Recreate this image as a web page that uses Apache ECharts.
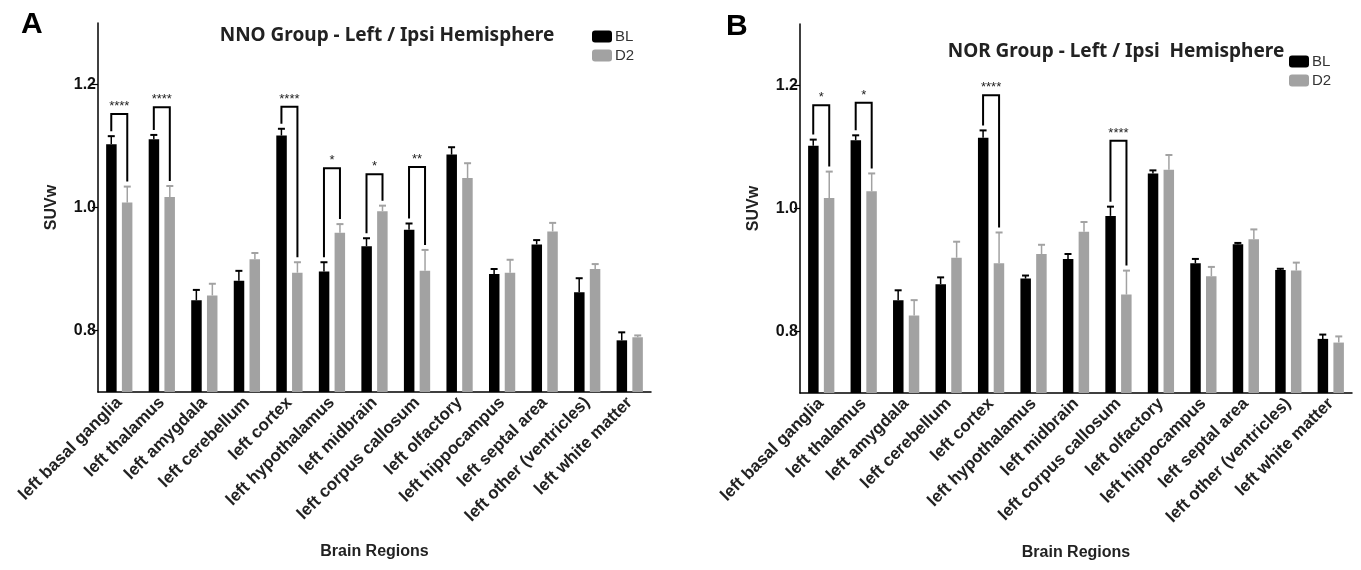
<!DOCTYPE html>
<html><head><meta charset="utf-8">
<script src="https://cdn.jsdelivr.net/npm/echarts@6/dist/echarts.min.js"></script>
<style>html,body{margin:0;padding:0;background:#fff}#c{width:1361px;height:570px}</style>
</head><body><div id="c"></div>
<script>
const categories = ['left basal ganglia','left thalamus','left amygdala','left cerebellum','left cortex','left hypothalamus','left midbrain','left corpus callosum','left olfactory','left hippocampus','left septal area','left other (ventricles)','left white matter'];
const blA    = [1.103, 1.111, 0.849, 0.881, 1.117, 0.896, 0.937, 0.964, 1.086, 0.892, 0.940, 0.862, 0.784];
const blAErr = [0.013, 0.007, 0.017, 0.016, 0.011, 0.015, 0.013, 0.010, 0.012, 0.008, 0.007, 0.023, 0.013];
const d2A    = [1.008, 1.017, 0.857, 0.916, 0.894, 0.959, 0.994, 0.897, 1.048, 0.894, 0.961, 0.900, 0.789];
const d2AErr = [0.026, 0.018, 0.019, 0.010, 0.017, 0.014, 0.009, 0.034, 0.024, 0.021, 0.014, 0.008, 0.003];
const blB    = [1.102, 1.111, 0.851, 0.877, 1.115, 0.886, 0.918, 0.988, 1.057, 0.911, 0.942, 0.900, 0.788];
const blBErr = [0.010, 0.008, 0.016, 0.011, 0.012, 0.005, 0.008, 0.015, 0.005, 0.007, 0.002, 0.002, 0.007];
const d2B    = [1.017, 1.028, 0.826, 0.920, 0.911, 0.926, 0.962, 0.860, 1.063, 0.890, 0.950, 0.899, 0.782];
const d2BErr = [0.043, 0.029, 0.025, 0.026, 0.050, 0.015, 0.016, 0.039, 0.024, 0.015, 0.016, 0.013, 0.010];
// significance brackets: [category index, bracket top value, stars]
const sigA = [[0, 1.152, '****'], [1, 1.163, '****'], [4, 1.164, '****'], [5, 1.064, '*'], [6, 1.054, '*'], [7, 1.066, '**']];
const sigB = [[0, 1.168, '*'], [1, 1.172, '*'], [4, 1.184, '****'], [7, 1.110, '****']];
const yTicks = [0.8, 1.0, 1.2];
const titleA = 'NNO Group - Left / Ipsi Hemisphere';
const titleB = 'NOR Group - Left / Ipsi  Hemisphere';
const seriesNames = ['BL', 'D2'];

const BLACK = '#000000', GREY = '#a2a2a2';
const BAR_W = 10.5, OFF = 8;
const FONT = 'Liberation Sans, Arial, sans-serif';
const NARROW = 'Liberation Sans Narrow, Liberation Sans, sans-serif';

function errRender(offset, color) {
  return function (params, api) {
    const i = api.value(0), v = api.value(1), e = api.value(2);
    const p0 = api.coord([i, v]);
    const p1 = api.coord([i, v + e]);
    const x = p0[0] + offset;
    return { type: 'group', children: [
      { type: 'line', shape: { x1: x, y1: p0[1], x2: x, y2: p1[1] }, style: { stroke: color, lineWidth: 1.5 } },
      { type: 'line', shape: { x1: x - 3.5, y1: p1[1], x2: x + 3.5, y2: p1[1] }, style: { stroke: color, lineWidth: 2 } }
    ]};
  };
}
function bracketRender(sig, bl, blE, d2, d2E) {
  return function (params, api) {
    const i = api.value(0), top = api.value(1);
    const label = sig[params.dataIndex][2];
    const pt = api.coord([i, top]);
    const xl = pt[0] - OFF, xr = pt[0] + OFF;
    const yl = api.coord([i, bl[i] + blE[i]])[1] - 5;
    const yr = api.coord([i, d2[i] + d2E[i]])[1] - 5;
    return { type: 'group', children: [
      { type: 'polyline', shape: { points: [[xl, yl], [xl, pt[1]], [xr, pt[1]], [xr, yr]] },
        style: { stroke: '#000', lineWidth: 2, fill: null } },
      { type: 'text', style: { text: label, x: pt[0], y: pt[1] - 1, textAlign: 'center', textVerticalAlign: 'bottom',
        align: 'center', verticalAlign: 'bottom', fontSize: 13, fontFamily: FONT, fill: '#222' } }
    ]};
  };
}
function tri(vals, errs) { return vals.map((v, i) => [i, v, errs[i]]); }

function xAxisCfg(g) {
  return {
    type: 'category', gridIndex: g, data: categories,
    axisLine: { lineStyle: { color: '#000', width: 1.5 } },
    axisTick: { alignWithLabel: true, length: 4, lineStyle: { color: '#000', width: 1.2 } },
    axisLabel: { rotate: 45, interval: 0, fontSize: 17, fontWeight: 'bold', color: '#222', fontFamily: FONT, margin: 8 },
    name: 'Brain Regions', nameLocation: 'middle', nameGap: 152,
    nameTextStyle: { fontSize: 16, fontWeight: 'bold', color: '#222', fontFamily: FONT }
  };
}
function yAxisCfg(g) {
  return {
    type: 'value', gridIndex: g, min: 0.7, max: 1.3, interval: 0.1,
    splitLine: { show: false },
    axisLine: { show: true, lineStyle: { color: '#000', width: 1.5 } },
    axisTick: { show: true, customValues: yTicks, length: 6, lineStyle: { color: '#000', width: 1.2 } },
    axisLabel: { customValues: yTicks, formatter: v => v.toFixed(1), fontSize: 16, fontWeight: 'bold', color: '#111', fontFamily: FONT, margin: 2 },
    name: 'SUVw', nameLocation: 'middle', nameGap: 38,
    nameTextStyle: { fontSize: 16, fontWeight: 'bold', color: '#222', fontFamily: FONT }
  };
}
function barSeries(name, data, color, g) {
  return { name, type: 'bar', xAxisIndex: g, yAxisIndex: g, data, barWidth: BAR_W, barGap: '50%',
    itemStyle: { color }, emphasis: { disabled: true }, z: 2 };
}
function errSeries(name, vals, errs, off, color, g) {
  return { name, type: 'custom', xAxisIndex: g, yAxisIndex: g, data: tri(vals, errs),
    renderItem: errRender(off, color), encode: { x: 0, y: 1 }, z: 3, silent: true };
}
function sigSeries(sig, bl, blE, d2, d2E, g) {
  return { type: 'custom', xAxisIndex: g, yAxisIndex: g, data: sig.map(s => [s[0], s[1]]),
    renderItem: bracketRender(sig, bl, blE, d2, d2E), encode: { x: 0, y: 1 }, z: 4, silent: true };
}
const legendText = { fontSize: 15, color: '#333', fontFamily: NARROW, padding: [0, 0, 0, -2] };

const chart = echarts.init(document.getElementById('c'), null, { renderer: 'canvas' });
chart.setOption({
  animation: false,
  backgroundColor: '#fff',
  title: [
    { text: titleA, left: 382, top: 21, textAlign: 'center', textStyle: { fontSize: 19, fontWeight: 'bold', color: '#222', fontFamily: 'Noto Sans, sans-serif' } },
    { text: titleB, left: 1111, top: 37, textAlign: 'center', textStyle: { fontSize: 19, fontWeight: 'bold', color: '#222', fontFamily: 'Noto Sans, sans-serif' } },
    { text: 'A', left: 16, top: 5, textStyle: { fontSize: 30, fontWeight: 'bold', color: '#000', fontFamily: FONT } },
    { text: 'B', left: 721, top: 7, textStyle: { fontSize: 30, fontWeight: 'bold', color: '#000', fontFamily: FONT } }
  ],
  legend: [
    { data: seriesNames, orient: 'vertical', left: 592, top: 29, padding: 0, itemWidth: 20, itemHeight: 12, itemGap: 4,
      textStyle: legendText, selectedMode: false },
    { data: seriesNames, orient: 'vertical', left: 1289, top: 54, padding: 0, itemWidth: 20, itemHeight: 12, itemGap: 4,
      textStyle: legendText, selectedMode: false }
  ],
  grid: [
    { left: 98, top: 23, width: 553, height: 369 },
    { left: 800, top: 24, width: 552, height: 369 }
  ],
  xAxis: [xAxisCfg(0), xAxisCfg(1)],
  yAxis: [yAxisCfg(0), yAxisCfg(1)],
  series: [
    barSeries('BL', blA, BLACK, 0), barSeries('D2', d2A, GREY, 0),
    errSeries('BL', blA, blAErr, -OFF, BLACK, 0), errSeries('D2', d2A, d2AErr, OFF, GREY, 0),
    sigSeries(sigA, blA, blAErr, d2A, d2AErr, 0),
    barSeries('BL', blB, BLACK, 1), barSeries('D2', d2B, GREY, 1),
    errSeries('BL', blB, blBErr, -OFF, BLACK, 1), errSeries('D2', d2B, d2BErr, OFF, GREY, 1),
    sigSeries(sigB, blB, blBErr, d2B, d2BErr, 1)
  ]
});
</script>
</body></html>
